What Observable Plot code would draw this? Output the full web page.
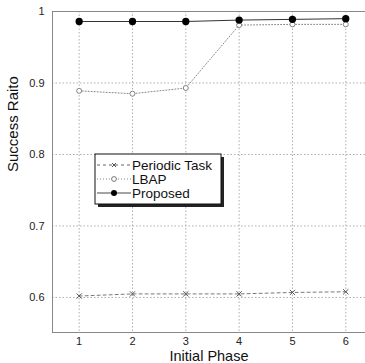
<!DOCTYPE html>
<html><head><meta charset="utf-8">
<script src="https://cdn.jsdelivr.net/npm/d3@7"></script>
<script src="https://cdn.jsdelivr.net/npm/@observablehq/plot@0.6"></script>
<style>
body{margin:0;background:#fff;font-family:"Liberation Sans",Arial,sans-serif;}
#wrap{position:relative;width:365px;height:363px;overflow:hidden;}
</style></head><body><div id="wrap"></div>
<script>
const phases = [1, 2, 3, 4, 5, 6];
const periodic = [0.602, 0.605, 0.605, 0.605, 0.607, 0.608];
const lbap = [0.889, 0.885, 0.893, 0.981, 0.982, 0.982];
const proposed = [0.986, 0.986, 0.986, 0.988, 0.989, 0.990];
const yTicks = [0.6, 0.7, 0.8, 0.9, 1];
const seriesNames = ["Periodic Task", "LBAP", "Proposed"];

const rows = (vals) => phases.map((p, i) => ({x: p, y: vals[i]}));
const P = rows(periodic), L = rows(lbap), R = rows(proposed);
const fmt = d => String(d);

const chart = Plot.plot({
  width: 365, height: 363,
  marginLeft: 52, marginRight: 0, marginTop: 11, marginBottom: 31,
  style: {fontFamily: "'Liberation Sans', Arial, sans-serif", fontSize: "11px", color: "#222", background: "#fff"},
  x: {domain: [0.5, 6.37], label: null},
  y: {domain: [0.551, 1], label: null},
  marks: [
    Plot.gridX(phases, {stroke: "#999", strokeOpacity: 1, strokeDasharray: "1.5,2", strokeWidth: 0.8}),
    Plot.gridY(yTicks, {stroke: "#999", strokeOpacity: 1, strokeDasharray: "1.5,2", strokeWidth: 0.8}),
    Plot.ruleX([0.5], {stroke: "#888", strokeWidth: 1}),
    Plot.ruleY([0.551], {stroke: "#888", strokeWidth: 1}),
    Plot.ruleY([1], {stroke: "#888", strokeWidth: 1}),
    Plot.axisX(phases, {tickSize: 0, tickPadding: 5, label: null, tickFormat: fmt}),
    Plot.axisY(yTicks, {tickSize: 0, tickPadding: 8, label: null, tickFormat: fmt}),
    Plot.line(P, {x: "x", y: "y", stroke: "#555", strokeWidth: 0.8, strokeDasharray: "3,3"}),
    Plot.dot(P, {x: "x", y: "y", symbol: "times", r: 2.5, stroke: "#444", strokeWidth: 0.9}),
    Plot.line(L, {x: "x", y: "y", stroke: "#777", strokeWidth: 0.9, strokeDasharray: "1,2"}),
    Plot.dot(L, {x: "x", y: "y", r: 2.5, stroke: "#777", fill: "white", strokeWidth: 0.9}),
    Plot.line(R, {x: "x", y: "y", stroke: "#333", strokeWidth: 1}),
    Plot.dot(R, {x: "x", y: "y", r: 2.9, fill: "#000", stroke: "#000"}),
    Plot.text(["Initial Phase"], {frameAnchor: "bottom", dy: 28.5, fontSize: 14.5, fill: "#111"}),
    Plot.text(["Success Raito"], {frameAnchor: "left", dx: -39, rotate: -90, fontSize: 15, fill: "#111"})
  ]
});
document.getElementById("wrap").appendChild(chart);

// legend box
const svg = d3.select(chart);
const g = svg.append("g").attr("transform", "translate(95,154)").attr("text-anchor", "start");
g.append("rect").attr("x", 3).attr("y", 3).attr("width", 126).attr("height", 50).attr("fill", "#222");
g.append("rect").attr("x", 0).attr("y", 0).attr("width", 126).attr("height", 50).attr("fill", "#fff").attr("stroke", "#111").attr("stroke-width", 1);
const styles = [
  {dash: "3,3", stroke: "#555", marker: "x"},
  {dash: "1,2", stroke: "#777", marker: "o"},
  {dash: null, stroke: "#333", marker: "dot"}
];
seriesNames.forEach((name, i) => {
  const yy = 11 + i * 14;
  const s = styles[i];
  const ln = g.append("line").attr("x1", 2).attr("x2", 36).attr("y1", yy).attr("y2", yy).attr("stroke", s.stroke).attr("stroke-width", 0.9);
  if (s.dash) ln.attr("stroke-dasharray", s.dash);
  if (s.marker === "x") {
    g.append("path").attr("d", `M${17},${yy-2}L${21},${yy+2}M${17},${yy+2}L${21},${yy-2}`).attr("stroke", "#444").attr("stroke-width", 0.9);
  } else if (s.marker === "o") {
    g.append("circle").attr("cx", 19).attr("cy", yy).attr("r", 2.4).attr("fill", "#fff").attr("stroke", "#777");
  } else {
    g.append("circle").attr("cx", 19).attr("cy", yy).attr("r", 3).attr("fill", "#000");
  }
  g.append("text").attr("x", 37).attr("y", yy + 5).attr("font-size", 13.5).attr("fill", "#111")
    .attr("text-anchor", "start")
    .attr("font-family", "'Liberation Sans', Arial, sans-serif").text(name);
});
</script></body></html>
